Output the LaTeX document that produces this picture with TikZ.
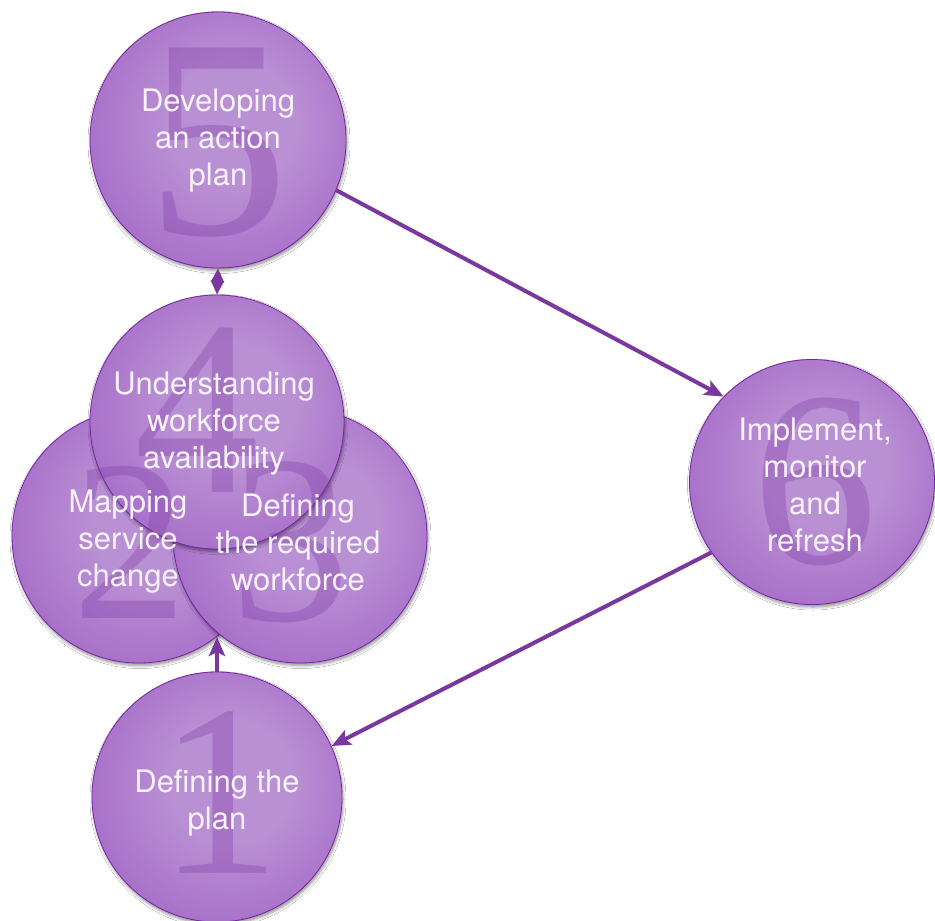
\documentclass[tikz,border=0pt]{standalone}
\usepackage{fontspec}
\setmainfont{TeX Gyre Heros}
\newfontfamily\numfont{Liberation Serif}
\usetikzlibrary{arrows.meta,shadows.blur}

\definecolor{orbA}{RGB}{186,144,212}
\definecolor{orbB}{RGB}{166,108,200}
\definecolor{orbC}{RGB}{140,64,184}
\definecolor{orbD}{RGB}{118,36,164}
\definecolor{arrowc}{RGB}{122,56,158}
\definecolor{numc}{RGB}{126,58,166}
\definecolor{txtc}{RGB}{248,242,251}

\pgfdeclareradialshading{orb}{\pgfpoint{4bp}{4bp}}{color(0bp)=(orbA); color(12bp)=(orbA); color(30bp)=(orbB); color(42bp)=(orbC); color(50bp)=(orbD)}

\tikzset{
  orbstyle/.style={circle, inner sep=0pt, minimum size=#1, shading=orb,
    draw=orbD, line width=0.8bp,
    blur shadow={shadow xshift=1bp, shadow yshift=-2.5bp, shadow blur radius=3bp, shadow blur steps=6, shadow opacity=45}},
  numstyle/.style={inner sep=0pt, text=numc, opacity=0.33, font=\fontsize{#1}{#1}\numfont},
  lbl/.style={inner sep=0pt, align=center, text=txtc, font=\fontsize{31bp}{37bp}\selectfont},
  conn/.style={draw=arrowc, line width=4bp, -{Stealth[length=19bp,width=16bp,inset=4bp]}},
  dbl/.style={draw=arrowc, line width=2.5bp, {Triangle[length=14bp,width=13bp]}-{Triangle[length=14bp,width=13bp]}}
}

\begin{document}
\begin{tikzpicture}[x=1bp,y=-1bp]
\useasboundingbox (0,0) rectangle (935,921);
\fill[white] (0,0) rectangle (935,921);

% circles
\node[orbstyle=256bp] (c5) at (218,140) {};
\node[orbstyle=245bp] (c6) at (812,482) {};
\node[orbstyle=250bp] (c1) at (217,797) {};
\node[orbstyle=254bp] (c2) at (139,536) {};
\node[orbstyle=254bp] (c3) at (300,536) {};
\node[orbstyle=254bp] (c4) at (217,422) {};

% big numbers
\node[numstyle=285bp] (n5) at (218,143) {5};
\node[numstyle=250bp] (n4) at (197,410) {4};
\node[numstyle=230bp] (n2) at (130,542) {2};
\node[numstyle=240bp] (n3) at (290,542) {3};
\node[numstyle=245bp] (n1) at (220,793) {1};
\node[numstyle=250bp] (n6) at (815,482) {6};

% labels
\node[lbl] (t5) at (218,141) {Developing\\an action\\plan};
\node[lbl] (t4) at (214,424) {Understanding\\workforce\\availability};
\node[lbl] (t2) at (128,542) {Mapping\\service\\change};
\node[lbl] (t3) at (298,542) {Defining\\the required\\workforce};
\node[lbl] (t6) at (815,485) {Implement,\\monitor\\and\\refresh};
\node[lbl] (t1) at (217,803) {Defining the\\plan};

% connectors
\coordinate (j23) at (217,637);
\draw[conn] (c5.-23.5) -- (c6.136);
\draw[conn] (c6.215) -- (c1.24);
\draw[conn] (c1.north) -- (j23);
\draw[dbl] (c5.south) -- (c4.north);
\end{tikzpicture}
\end{document}
